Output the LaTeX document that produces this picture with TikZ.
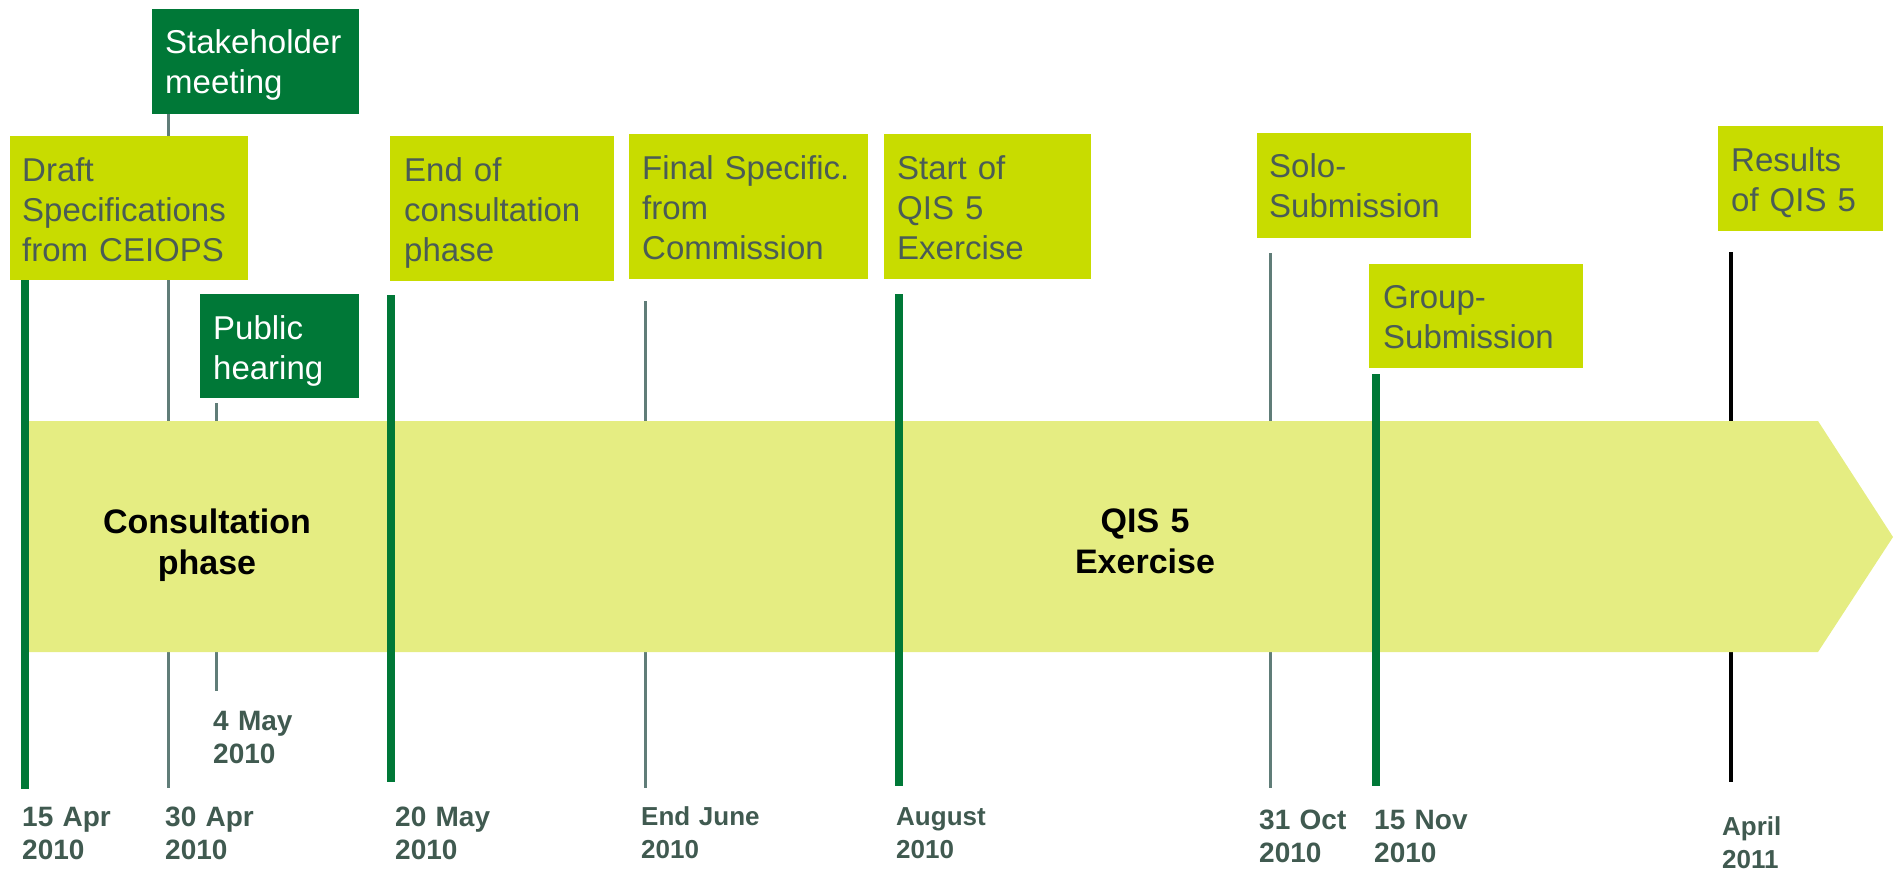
\documentclass[tikz,border=0pt]{standalone}
\usepackage{fontspec}
\setmainfont{Liberation Sans}
\usetikzlibrary{calc}

\definecolor{darkgreen}{HTML}{007837}
\definecolor{lime}{HTML}{C8DC00}
\definecolor{bandfill}{HTML}{E5ED82}
\definecolor{boxtext}{HTML}{4A5C56}
\definecolor{datetext}{HTML}{405A50}
\definecolor{thinline}{HTML}{607D78}

\begin{document}
\begin{tikzpicture}[x=1pt,y=-1pt,
  limebox/.style={fill=lime, draw=none, inner sep=0pt, anchor=north west},
  greenbox/.style={fill=darkgreen, draw=none, inner sep=0pt, anchor=north west},
  boxlabel/.style={anchor=base west, inner sep=0pt, text width=230pt, align=left,
    font=\fontsize{33}{40}\selectfont, text=boxtext},
  whitelabel/.style={boxlabel, text=white},
  datelabel/.style={anchor=base west, inner sep=0pt, text width=140pt, align=left,
    font=\bfseries\fontsize{28}{33}\selectfont, text=datetext},
  smalldate/.style={datelabel, font=\bfseries\fontsize{26}{33}\selectfont},
  phaselabel/.style={anchor=base, inner sep=0pt, text width=300pt, align=center,
    font=\bfseries\fontsize{34}{41}\selectfont, text=black},
  thickmark/.style={draw=darkgreen, line width=8pt},
  thinmark/.style={draw=thinline, line width=3pt},
  blackmark/.style={draw=black, line width=4pt}
]
\useasboundingbox (0,0) rectangle (1894,871);

% end points of the date markers
\coordinate (apr15top) at (25,279);     \coordinate (apr15bot) at (25,789);
\coordinate (apr30top) at (168.5,114);  \coordinate (apr30bot) at (168.5,788);
\coordinate (may4top)  at (216.5,403);  \coordinate (may4bot)  at (216.5,691);
\coordinate (may20top) at (391,295);    \coordinate (may20bot) at (391,782);
\coordinate (juntop)   at (645,301);    \coordinate (junbot)   at (645,788);
\coordinate (augtop)   at (899,294);    \coordinate (augbot)   at (899,786);
\coordinate (oct31top) at (1270,253);   \coordinate (oct31bot) at (1270,788);
\coordinate (nov15top) at (1376,374);   \coordinate (nov15bot) at (1376,786);
\coordinate (apr11top) at (1731,252);   \coordinate (apr11bot) at (1731,782);

% thin markers run behind the phase band
\draw[thinmark]  (apr30top) -- (apr30bot);
\draw[thinmark]  (may4top)  -- (may4bot);
\draw[thinmark]  (juntop)   -- (junbot);
\draw[thinmark]  (oct31top) -- (oct31bot);
\draw[blackmark] (apr11top) -- (apr11bot);

% phase band with arrow head
\fill[bandfill] (25,421) -- (1818,421) -- (1893,537) -- (1818,652) -- (25,652) -- cycle;
\node[phaselabel] (consult) at (207,533) {Consultation\\phase};
\node[phaselabel] (qisphase) at (1145,532) {QIS 5\\Exercise};

% milestone markers in front of the band
\draw[thickmark] (apr15top) -- (apr15bot);
\draw[thickmark] (may20top) -- (may20bot);
\draw[thickmark] (augtop)   -- (augbot);
\draw[thickmark] (nov15top) -- (nov15bot);

% event boxes
\node[greenbox, minimum width=207pt, minimum height=105pt] (stake) at (152,9) {};
\node[whitelabel] (staket) at (165,53) {Stakeholder\\meeting};

\node[limebox, minimum width=238pt, minimum height=144pt] (draft) at (10,136) {};
\node[boxlabel] (draftt) at (22,181) {Draft\\Specifications\\from CEIOPS};

\node[greenbox, minimum width=159pt, minimum height=104pt] (hearing) at (200,294) {};
\node[whitelabel] (hearingt) at (213,339) {Public\\hearing};

\node[limebox, minimum width=224pt, minimum height=145pt] (endcons) at (390,136) {};
\node[boxlabel] (endconst) at (404,181) {End of\\consultation\\phase};

\node[limebox, minimum width=239pt, minimum height=145pt] (finalspec) at (629,134) {};
\node[boxlabel] (finalspect) at (642,179) {Final Specific.\\from\\Commission};

\node[limebox, minimum width=207pt, minimum height=145pt] (startqis) at (884,134) {};
\node[boxlabel] (startqist) at (897,179) {Start of\\QIS 5\\Exercise};

\node[limebox, minimum width=214pt, minimum height=105pt] (solo) at (1257,133) {};
\node[boxlabel] (solot) at (1269,177) {Solo-\\Submission};

\node[limebox, minimum width=214pt, minimum height=104pt] (group) at (1369,264) {};
\node[boxlabel] (groupt) at (1383,308) {Group-\\Submission};

\node[limebox, minimum width=165pt, minimum height=105pt] (results) at (1718,126) {};
\node[boxlabel] (resultst) at (1731,171) {Results\\of QIS 5};

% dates
\node[datelabel] (d1) at (22,826)   {15 Apr\\2010};
\node[datelabel] (d2) at (165,826)  {30 Apr\\2010};
\node[datelabel] (d3) at (213,730)  {4 May\\2010};
\node[datelabel] (d4) at (395,826)  {20 May\\2010};
\node[smalldate] (d5) at (641,825)  {End June\\2010};
\node[smalldate] (d6) at (896,825)  {August\\2010};
\node[datelabel] (d7) at (1259,829) {31 Oct\\2010};
\node[datelabel] (d8) at (1374,829) {15 Nov\\2010};
\node[smalldate] (d9) at (1722,835) {April\\2011};
\end{tikzpicture}
\end{document}
